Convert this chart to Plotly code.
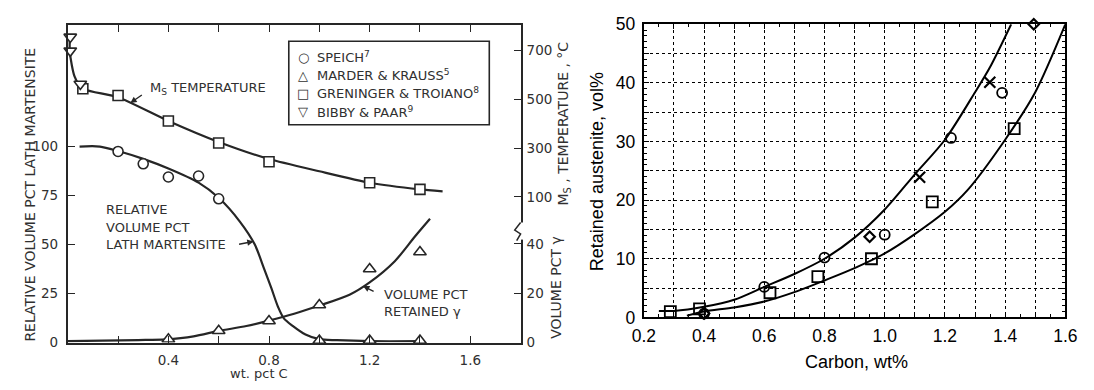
import plotly.graph_objects as go

W, H = 1094, 390

# ---------------- Left panel: Fe-C martensite data ----------------
# wt. pct C  vs relative volume pct lath martensite (Speich)
speich_c = [0.2, 0.3, 0.4, 0.52, 0.6]
speich_lath = [97.3, 91.0, 84.3, 84.8, 73.2]

# Marder & Krauss: retained austenite (right-hand gamma scale) and lath fraction
mk_c_gamma = [0.4, 0.6, 0.8, 1.0, 1.2, 1.4]
mk_gamma = [1.3, 4.8, 8.7, 15.2, 29.8, 36.7]
mk_c_lath = [1.0, 1.2, 1.4]
mk_lath = [1.0, 1.0, 1.0]

# Ms temperature, deg C
gt_c = [0.06, 0.2, 0.4, 0.6, 0.8, 1.2, 1.4]
gt_ms = [543, 515, 411, 321, 244, 158, 131]
bp_c = [0.01, 0.01, 0.05]
bp_ms = [755, 698, 562]

# fitted curves
ms_curve_c = [0.008, 0.008, 0.016, 0.027, 0.043, 0.07, 0.2, 0.4, 0.6, 0.8, 1.0, 1.2, 1.4, 1.49]
ms_curve_t = [756, 698, 640, 593, 562, 539, 508, 411, 325, 255, 205, 158, 131, 123]

lath_curve_c = [0.047, 0.128, 0.2, 0.3, 0.4, 0.52, 0.6, 0.684, 0.743, 0.781, 0.809,
                0.836, 0.859, 0.894, 0.945, 1.0, 1.07, 1.2, 1.41]
lath_curve_v = [99.8, 99.8, 97.5, 93.5, 88.6, 81.4, 73.7, 61.6, 50.0, 37.4, 27.8,
                18.1, 12.3, 8.5, 4.1, 1.7, 1.2, 0.7, 0.7]

gamma_curve_c = [0.0, 0.28, 0.39, 0.5, 0.6, 0.71, 0.8, 0.9, 1.0, 1.12, 1.2, 1.3, 1.38, 1.44]
gamma_curve_v = [0.6, 1.0, 1.3, 2.5, 4.7, 6.7, 8.9, 11.7, 15.0, 19.4, 24.4, 33.0, 43.0, 50.2]

left_xticks = [0.2, 0.4, 0.6, 0.8, 1.0, 1.2, 1.4, 1.6]
left_xlabels = ["", "0.4", "", "0.8", "", "1.2", "", "1.6"]
lath_ticks = [0, 25, 50, 75, 100]
ms_ticks = [100, 300, 500, 700]
gamma_ticks = [0, 20, 40]

legend_names = ["SPEICH<sup>7</sup>", "MARDER & KRAUSS<sup>5</sup>",
                "GRENINGER & TROIANO<sup>8</sup>", "BIBBY & PAAR<sup>9</sup>"]
legend_glyphs = ["○", "△", "□", "▽"]

# ---------------- Right panel: retained austenite vs carbon ----------------
circ_c = [0.4, 0.6, 0.8, 1.0, 1.22, 1.39]
circ_v = [0.65, 5.2, 10.2, 14.1, 30.6, 38.3]
diam_c = [0.4, 0.95, 1.495]
diam_v = [0.65, 13.75, 50.0]
cross_c = [1.116, 1.349]
cross_v = [23.9, 40.1]
sq_c = [0.288, 0.385, 0.619, 0.778, 0.956, 1.158, 1.43]
sq_v = [0.97, 1.46, 4.2, 6.96, 10.0, 19.7, 32.2]

upper_c = [0.25, 0.3, 0.4, 0.5, 0.6, 0.7, 0.8, 0.9, 1.0, 1.1, 1.2, 1.3, 1.35, 1.42]
upper_v = [1.1, 1.1, 1.8, 3.0, 5.2, 7.4, 10.0, 13.6, 18.4, 24.4, 30.3, 38.4, 42.7, 50.0]
lower_c = [0.343, 0.4, 0.5, 0.6, 0.7, 0.8, 0.9, 1.0, 1.1, 1.2, 1.275, 1.4, 1.5, 1.6]
lower_v = [0.3, 1.0, 1.7, 2.7, 4.3, 6.3, 8.4, 10.9, 14.2, 18.0, 21.7, 30.3, 38.4, 50.0]

right_xticks = [round(0.2 + 0.1 * i, 1) for i in range(15)]
right_xlabels = [f"{v:.1f}" if i % 2 == 0 else "" for i, v in enumerate(right_xticks)]
right_yticks = [0, 5, 10, 15, 20, 25, 30, 35, 40, 45, 50]
right_ylabels = [str(v) if v % 10 == 0 else "" for v in right_yticks]


def px(x):
    return x / W


def py(y):
    return 1 - y / H


INK = "#262626"
TXT = "#303030"
LF = dict(family="DejaVu Sans", size=13, color=TXT)
AF = dict(family="DejaVu Sans", size=14, color=TXT)
TF = dict(family="DejaVu Sans", size=13.5, color=TXT)
RF = dict(family="Liberation Sans, Arial", size=17.5, color="black")

fig = go.Figure()

# ---- left panel traces ----
fig.add_trace(go.Scatter(x=ms_curve_c, y=ms_curve_t, xaxis="x", yaxis="y2", mode="lines",
                         line=dict(color=INK, width=2.2, shape="spline", smoothing=0.6),
                         showlegend=False, hoverinfo="skip"))
fig.add_trace(go.Scatter(x=lath_curve_c, y=lath_curve_v, xaxis="x", yaxis="y", mode="lines",
                         line=dict(color=INK, width=2.2, shape="spline", smoothing=0.8),
                         showlegend=False, hoverinfo="skip"))
fig.add_trace(go.Scatter(x=gamma_curve_c, y=gamma_curve_v, xaxis="x", yaxis="y3", mode="lines",
                         line=dict(color=INK, width=2.2, shape="spline", smoothing=0.8),
                         showlegend=False, hoverinfo="skip"))

mk = dict(color="white", line=dict(color=INK, width=1.6))
fig.add_trace(go.Scatter(x=speich_c, y=speich_lath, xaxis="x", yaxis="y", mode="markers",
                         name=legend_names[0], showlegend=False,
                         marker=dict(symbol="circle", size=10, **mk)))
fig.add_trace(go.Scatter(x=mk_c_gamma, y=mk_gamma, xaxis="x", yaxis="y3", mode="markers",
                         name=legend_names[1], showlegend=False,
                         marker=dict(symbol="triangle-up", size=11, **mk)))
fig.add_trace(go.Scatter(x=gt_c, y=gt_ms, xaxis="x", yaxis="y2", mode="markers",
                         name=legend_names[2], showlegend=False,
                         marker=dict(symbol="square", size=10, **mk)))
fig.add_trace(go.Scatter(x=bp_c, y=bp_ms, xaxis="x", yaxis="y2", mode="markers",
                         name=legend_names[3], showlegend=False, cliponaxis=False,
                         marker=dict(symbol="triangle-down", size=11, **mk)))
fig.add_trace(go.Scatter(x=mk_c_lath, y=mk_lath, xaxis="x", yaxis="y", mode="markers",
                         name=legend_names[1], showlegend=False, cliponaxis=False,
                         marker=dict(symbol="triangle-up", size=11, **mk)))

# ---- right panel traces ----
fig.add_trace(go.Scatter(x=upper_c, y=upper_v, xaxis="x2", yaxis="y4", mode="lines",
                         line=dict(color="black", width=2, shape="spline", smoothing=0.8),
                         showlegend=False, hoverinfo="skip"))
fig.add_trace(go.Scatter(x=lower_c, y=lower_v, xaxis="x2", yaxis="y4", mode="lines",
                         line=dict(color="black", width=2, shape="spline", smoothing=0.8),
                         showlegend=False, hoverinfo="skip"))
fig.add_trace(go.Scatter(x=sq_c, y=sq_v, xaxis="x2", yaxis="y4", mode="markers", showlegend=False,
                         cliponaxis=False,
                         marker=dict(symbol="square-open", size=11, color="black",
                                     line=dict(color="black", width=1.8))))
fig.add_trace(go.Scatter(x=circ_c, y=circ_v, xaxis="x2", yaxis="y4", mode="markers", showlegend=False,
                         cliponaxis=False,
                         marker=dict(symbol="circle-open", size=10, color="black",
                                     line=dict(color="black", width=1.8))))
fig.add_trace(go.Scatter(x=diam_c, y=diam_v, xaxis="x2", yaxis="y4", mode="markers", showlegend=False,
                         cliponaxis=False,
                         marker=dict(symbol="diamond-open", size=8, color="black",
                                     line=dict(color="black", width=2.2))))
fig.add_trace(go.Scatter(x=cross_c, y=cross_v, xaxis="x2", yaxis="y4", mode="markers", showlegend=False,
                         cliponaxis=False,
                         marker=dict(symbol="x-thin-open", size=11, color="black",
                                     line=dict(color="black", width=2.2))))

# ---- axes ----
left_dom_x = [px(57), px(520)]
left_dom_y = [py(350.5), py(16)]
right_dom_x = [px(646), px(1077)]
right_dom_y = [py(324), py(15)]

common_left = dict(showgrid=False, zeroline=False, ticks="inside", ticklen=7, tickwidth=1.4,
                   tickcolor=INK, tickfont=TF, linecolor=INK, linewidth=1.8)

fig.update_layout(
    width=W, height=H, margin=dict(l=0, r=0, t=0, b=0), autosize=False,
    paper_bgcolor="white", plot_bgcolor="white", showlegend=False,
    xaxis=dict(domain=left_dom_x, anchor="y", range=[0, 1.8], tickmode="array",
               tickvals=left_xticks, ticktext=left_xlabels, showline=True, mirror="ticks",
               ticklabelstandoff=4, **common_left),
    yaxis=dict(domain=left_dom_y, anchor="x", range=[0, 161.6], tickmode="array",
               tickvals=lath_ticks, showline=True, mirror=True, ticklabelstandoff=5, **common_left),
    yaxis2=dict(overlaying="y", anchor="x", side="right", range=[-496, 803], tickmode="array",
                tickvals=ms_ticks, showline=False, ticklabelstandoff=5, **common_left),
    yaxis3=dict(overlaying="y", anchor="x", side="right", range=[0, 128.7], tickmode="array",
                tickvals=gamma_ticks, showline=False, ticklabelstandoff=5, **common_left),
    xaxis2=dict(domain=right_dom_x, anchor="y4", range=[0.2, 1.6], tickmode="array",
                tickvals=right_xticks, ticktext=right_xlabels, showline=True, mirror="ticks",
                linecolor="black", linewidth=2, ticks="inside", ticklen=5, tickcolor="black",
                tickfont=RF, showgrid=True, gridcolor="black", griddash="dot", gridwidth=1,
                zeroline=False, ticklabelstandoff=2,
                minor=dict(dtick=0.05, ticks="inside", ticklen=3, tickcolor="black", showgrid=False)),
    yaxis4=dict(domain=right_dom_y, anchor="x2", range=[0, 50], tickmode="array",
                tickvals=right_yticks, ticktext=right_ylabels, showline=True, mirror="ticks",
                linecolor="black", linewidth=2, ticks="inside", ticklen=5, tickcolor="black",
                tickfont=RF, showgrid=True, gridcolor="black", griddash="dot", gridwidth=1,
                zeroline=False, ticklabelstandoff=3,
                minor=dict(dtick=1, ticks="inside", ticklen=3, tickcolor="black", showgrid=False)),
)

# ---- annotations ----
ann = []


def text(x, y, s, font=LF, angle=0, xanchor="left"):
    ann.append(dict(x=px(x), y=py(y), xref="paper", yref="paper", text=s, showarrow=False,
                    font=font, textangle=angle, xanchor=xanchor, yanchor="middle"))


def arrow(hx, hy, tx, ty):
    ann.append(dict(x=px(hx), y=py(hy), xref="paper", yref="paper", text="", showarrow=True,
                    ax=tx - hx, ay=ty - hy, arrowhead=2, arrowsize=0.9, arrowwidth=1.4,
                    arrowcolor=INK))


# legend entries inside the framed key
for i, (g, name) in enumerate(zip(legend_glyphs, legend_names)):
    yrow = 50 + 19 * i
    text(298, yrow, g, font=dict(family="DejaVu Sans", size=13, color=TXT), xanchor="center")
    text(310, yrow, name)

text(139, 83, "M<sub>S</sub> TEMPERATURE")
arrow(121, 98, 134, 89)
text(94, 210, "RELATIVE")
text(94, 229, "VOLUME PCT")
text(94, 247, "LATH MARTENSITE")
arrow(247, 244, 231, 247)
text(378, 300, "VOLUME PCT")
text(378, 318, "RETAINED γ")
arrow(359, 291, 371, 297)
text(18, 195, "RELATIVE VOLUME PCT LATH MARTENSITE", font=AF, angle=-90, xanchor="center")
text(564, 120, "M<sub>S</sub> , TEMPERATURE , °C", font=AF, angle=-90, xanchor="center")
text(556, 292, "VOLUME PCT γ", font=AF, angle=-90, xanchor="center")
text(253, 383, "wt. pct C", font=dict(family="DejaVu Sans", size=13, color=TXT), xanchor="center")

text(863, 371, "Carbon, wt%", font=dict(family="Liberation Sans, Arial", size=18, color="black"),
     xanchor="center")
text(598, 170, "Retained austenite, vol%",
     font=dict(family="Liberation Sans, Arial", size=18, color="black"), angle=-90, xanchor="center")

fig.update_layout(annotations=ann)

# ---- key frame and axis break ----
shapes = [
    dict(type="rect", xref="paper", yref="paper", x0=px(283), x1=px(488), y0=py(121), y1=py(33),
         line=dict(color=INK, width=1.6), fillcolor="rgba(0,0,0,0)", layer="above"),
    dict(type="rect", xref="paper", yref="paper", x0=px(513), x1=px(525), y0=py(242), y1=py(224),
         line=dict(width=0), fillcolor="white", layer="above"),
    dict(type="path", xref="paper", yref="paper",
         path=f"M {px(520)} {py(224)} L {px(514)} {py(232)} L {px(520)} {py(236)} L {px(516)} {py(243)}",
         line=dict(color=INK, width=1.5), layer="above"),
]
fig.update_layout(shapes=shapes)

fig.write_html("out.html")
